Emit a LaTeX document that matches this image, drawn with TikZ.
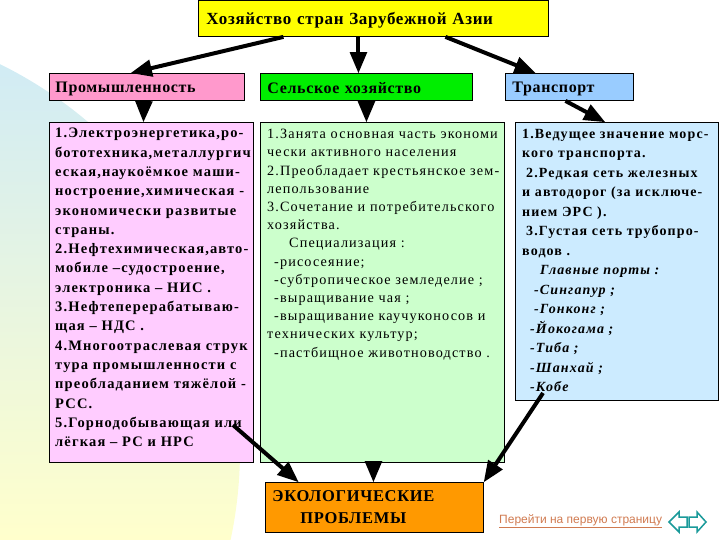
\documentclass[tikz,border=0pt]{standalone}
\usepackage{fontspec}
\setmainfont{Liberation Serif}
\newfontfamily\linkfont{Liberation Sans}
\newfontfamily\widefont[LetterSpace=8]{Liberation Serif}
\newfontfamily\hdrfont[LetterSpace=4]{Liberation Serif}
\usepackage{tikz}
\usetikzlibrary{shapes,arrows,positioning,calc}

\definecolor{titlefill}{HTML}{FFFF00}
\definecolor{promhdr}{HTML}{FF99CC}
\definecolor{agrhdr}{HTML}{00EE00}
\definecolor{transhdr}{HTML}{99CCFF}
\definecolor{promfill}{HTML}{FFCCFF}
\definecolor{agrfill}{HTML}{CCFFCC}
\definecolor{transfill}{HTML}{CCEBFF}
\definecolor{ecofill}{HTML}{FF9900}
\definecolor{linkc}{HTML}{D07A50}
\definecolor{navc}{HTML}{1A9A9A}
\definecolor{bgblue}{HTML}{CBE9FA}
\definecolor{bgyellow}{HTML}{FFFFCC}

\begin{document}
\begin{tikzpicture}[x=1pt, y=-1pt,
    box/.style={draw=black, line width=0.9pt, anchor=north west, inner sep=0pt},
    hdr/.style={box, minimum height=27pt, inner xsep=6pt, align=left,
        font=\hdrfont\fontsize{16}{18}\selectfont\bfseries},
    txt/.style={anchor=north west, inner sep=0pt, align=left},
    arr/.style={-triangle 45, line width=4pt}]
    \useasboundingbox (0,0) rectangle (720,540);

    % background
    \begin{scope}
        \clip (-190,450) circle (430);
        \shade[top color=bgblue, bottom color=bgyellow] (0,0) rectangle (260,540);
    \end{scope}

    % boxes
    \node[box, fill=titlefill, text width=334pt, inner xsep=8pt, minimum height=36pt,
        align=left, font=\hdrfont\fontsize{17}{20}\selectfont\bfseries] (title) at (198,0)
        {\rule{0pt}{15pt}Хозяйство стран Зарубежной Азии};

    \node[hdr, fill=promhdr, text width=183pt] (prom) at (49,73) {\rule{0pt}{14pt}Промышленность};
    \node[hdr, fill=agrhdr, text width=198pt, inner xsep=7pt] (agr) at (260,73) {\rule{0pt}{14pt}Сельское хозяйство};
    \node[hdr, fill=transhdr, text width=114pt, inner xsep=7pt] (trans) at (505,73) {\rule{0pt}{14pt}Транспорт};

    \node[box, fill=promfill, minimum width=204pt, minimum height=340pt] (promtxt) at (49,122) {};
    \node[box, fill=agrfill, minimum width=244pt, minimum height=340pt] (agrtxt) at (260,122) {};
    \node[box, fill=transfill, minimum width=203pt, minimum height=278pt] (transtxt) at (515,122) {};

    \node[txt, font=\widefont\fontsize{14.5}{19.3}\selectfont\bfseries] (promlist)
        at ([shift={(6pt,-6pt)}]promtxt.north west)
        {1.Электроэнергетика,ро-\\
         бототехника,металлургич\\
         еская,наукоёмкое маши-\\
         ностроение,химическая -\\
         экономически развитые\\
         страны.\\
         2.Нефтехимическая,авто-\\
         мобиле –судостроение,\\
         электроника – НИС .\\
         3.Нефтеперерабатываю-\\
         щая – НДС .\\
         4.Многоотраслевая струк\\
         тура промышленности с\\
         преобладанием тяжёлой -\\
         РСС.\\
         5.Горнодобывающая или\\
         лёгкая – РС и НРС};

    \node[txt, font=\widefont\fontsize{14.2}{18.2}\selectfont] (agrlist)
        at ([shift={(7pt,-7pt)}]agrtxt.north west)
        {1.Занята основная часть экономи\\
         чески активного населения\\
         2.Преобладает крестьянское зем-\\
         лепользование\\
         3.Сочетание и потребительского\\
         хозяйства.\\
         \hspace*{22pt}Специализация :\\
         \hspace*{7pt}-рисосеяние;\\
         \hspace*{7pt}-субтропическое земледелие ;\\
         \hspace*{7pt}-выращивание чая ;\\
         \hspace*{7pt}-выращивание каучуконосов и\\
         технических культур;\\
         \hspace*{7pt}-пастбищное животноводство .};

    \node[txt, font=\widefont\fontsize{14}{19.5}\selectfont\bfseries] (translist)
        at ([shift={(7pt,-7pt)}]transtxt.north west)
        {1.Ведущее значение морс-\\
         кого транспорта.\\
         \hspace*{4pt}2.Редкая сеть железных\\
         и автодорог (за исключе-\\
         нием ЭРС ).\\
         \hspace*{4pt}3.Густая сеть трубопро-\\
         водов .\\
         \hspace*{18pt}\itshape Главные порты :\\
         \hspace*{12pt}\itshape -Сингапур ;\\
         \hspace*{12pt}\itshape -Гонконг ;\\
         \hspace*{8pt}\itshape -Йокогама ;\\
         \hspace*{8pt}\itshape -Тиба ;\\
         \hspace*{8pt}\itshape -Шанхай ;\\
         \hspace*{8pt}\itshape -Кобе};

    \node[box, fill=ecofill, text width=204pt, inner xsep=7pt, minimum height=50pt,
        align=left, font=\hdrfont\fontsize{16.5}{22}\selectfont\bfseries] (eco) at (265,482)
        {ЭКОЛОГИЧЕСКИЕ\\\hspace*{28pt}ПРОБЛЕМЫ};

    \node[anchor=west, inner sep=0pt, text=linkc, font=\linkfont\fontsize{12}{14}\selectfont]
        (link) at (499,521) {\underline{Перейти на первую страницу}};

    % connectors
    \coordinate (pinkend) at (233,425);
    \coordinate (blueend) at (543,393);
    \draw[arr] ([xshift=-90pt]title.south) -- ([xshift=-16pt]prom.north);
    \draw[arr] ([xshift=-15pt]title.south) -- ([xshift=-8pt]agr.north);
    \draw[arr] ([xshift=72pt]title.south) -- ([xshift=-34pt]trans.north);
    \draw[arr] ([xshift=-3pt]prom.south) -- ([xshift=-8pt]promtxt.north);
    \draw[arr] (agr.south) -- ([xshift=-16pt]agrtxt.north);
    \draw[arr] ([xshift=-4pt]trans.south) -- ([xshift=-12pt]transtxt.north);
    \draw[arr] (pinkend) -- ([xshift=-76pt]eco.north);
    \draw[arr] ([xshift=-9pt]agrtxt.south) -- ([xshift=-1pt]eco.north);
    \draw[arr] (blueend) -- (eco.north east);

    % navigation arrows
    \draw[navc, line width=1.5pt, fill=white, line join=miter]
        (669,522) -- (679,512) -- (679,517) -- (687,517) -- (687,527) -- (679,527) -- (679,532) -- cycle;
    \draw[navc, line width=1.5pt, fill=white, line join=miter]
        (706,522) -- (697,512) -- (697,517) -- (689,517) -- (689,527) -- (697,527) -- (697,532) -- cycle;
\end{tikzpicture}
\end{document}
